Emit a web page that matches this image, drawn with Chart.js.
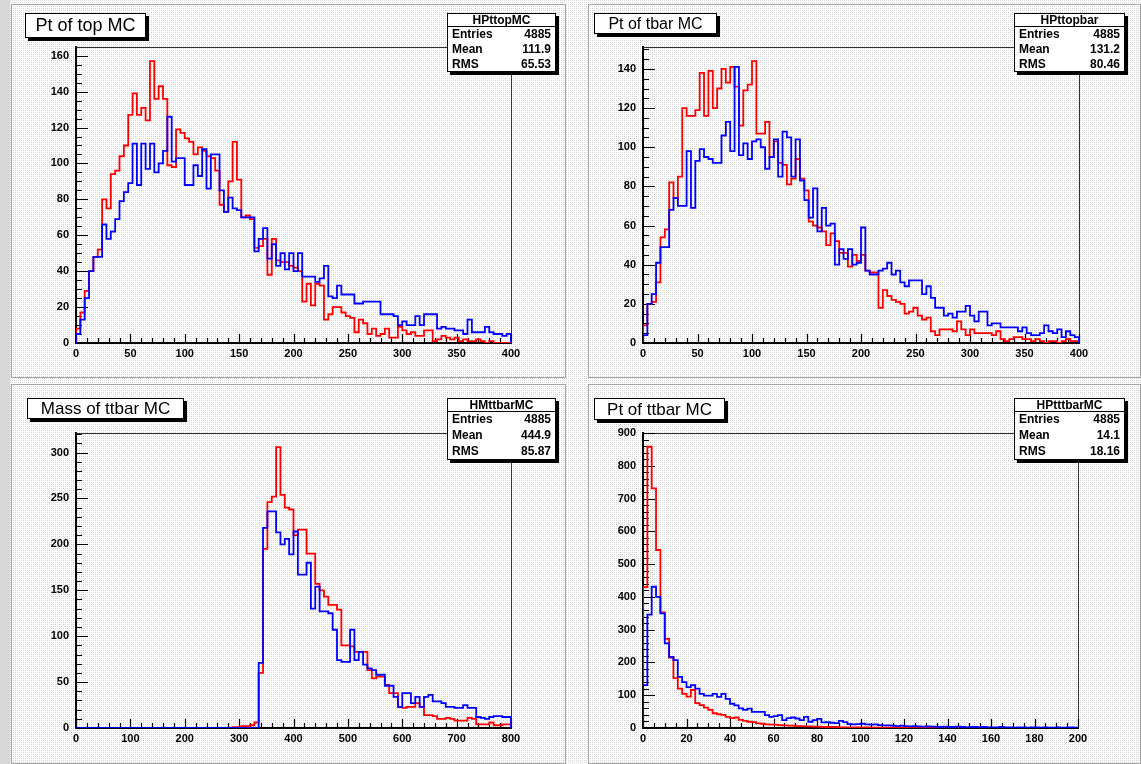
<!DOCTYPE html>
<html>
<head>
<meta charset="utf-8">
<script src="https://cdn.jsdelivr.net/npm/chart.js@4.4.1/dist/chart.umd.min.js"></script>
<style>
  html, body { margin: 0; padding: 0; }
  body { width: 1141px; height: 764px; position: relative; overflow: hidden; }
  #strip { position: absolute; left: 0; top: 0; width: 10px; height: 764px; background: #d7d7d7; }
  canvas.pad { position: absolute; }
</style>
</head>
<body>
<div id="strip"></div>
<canvas class="pad" id="pad1"></canvas>
<canvas class="pad" id="pad2"></canvas>
<canvas class="pad" id="pad3"></canvas>
<canvas class="pad" id="pad4"></canvas>
<script>
// bin contents, 100 bins each (red = first histogram, blue = second)
const topPtRed = [8,17,29,40,48,52,80,75,94,96, 104,110,127,139,127,131,124,157,136,143,
  136,99,98,119,117,114,112,105,109,107, 104,103,96,77,73,90,112,91,70,71,
  69,53,54,58,38,58,46,45,45,43, 42,40,23,33,21,33,32,13,16,20,
  20,17,15,14,6,13,11,5,8,4, 5,8,3,3,9,7,5,6,4,4,
  7,7,1,2,4,3,2,3,1,2, 1,1,2,1,0,1,0,0,0,0];
const topPtBlue = [5,13,25,40,48,48,66,58,62,69, 79,84,89,111,88,111,97,111,95,100,
  107,126,101,103,103,88,88,99,93,108, 86,105,105,85,73,81,75,74,70,70,
  70,51,58,64,47,55,43,50,41,50, 40,50,37,37,37,34,36,43,26,25,
  32,27,27,27,22,22,23,23,23,23, 16,16,16,15,10,12,10,10,15,10,
  16,16,16,8,9,8,8,7,7,5, 13,6,6,6,9,6,5,5,4,5];

const tbarPtRed = [9,20,21,31,54,58,82,74,85,120, 116,116,119,138,116,139,120,130,140,133,
  141,131,111,129,132,144,107,107,113,95, 103,92,91,81,84,94,84,78,62,60,
  59,57,50,56,52,46,46,39,45,42, 45,37,36,36,18,27,24,22,21,20,
  15,16,18,14,12,13,6,4,7,7, 7,6,11,7,4,7,5,5,5,5,
  4,6,2,1,2,3,3,2,2,1, 2,1,0,1,1,0,1,2,1,1];
const tbarPtBlue = [4,20,25,41,49,49,68,74,70,70, 98,69,93,99,95,94,92,92,106,113,
  98,141,96,102,94,103,104,100,89,95, 104,85,108,105,85,104,83,73,64,79,
  57,69,60,61,40,48,43,48,40,41, 59,37,35,35,37,38,41,35,37,31,
  29,32,32,32,25,29,23,18,18,14, 15,13,16,16,19,14,11,16,16,9,
  10,10,8,8,8,8,6,8,5,4, 4,5,9,6,5,7,3,6,4,3];

const massRed = [0,0,0,0,0,0,0,0,0,0, 0,0,0,0,0,0,0,0,0,0,
  0,0,0,0,0,0,0,0,0,0, 0,0,0,0,0,0,1,1,2,2,
  3,6,60,195,246,252,306,254,240,238, 210,216,216,190,190,157,150,143,134,134,
  129,90,90,89,83,83,83,63,54,56, 56,47,38,38,23,22,23,23,27,23,
  14,14,13,10,10,11,10,8,8,8, 11,10,4,4,4,6,3,3,4,4];
const massBlue = [0,0,0,0,0,0,0,0,0,0, 0,0,0,0,0,0,0,0,0,0,
  0,0,0,0,0,0,0,0,0,0, 0,0,0,0,0,0,0,0,0,0,
  0,0,71,218,236,236,213,200,206,189, 214,167,167,180,130,154,127,127,125,107,
  74,72,72,107,74,83,69,65,63,58, 58,46,46,34,23,38,38,27,34,23,
  34,36,29,29,27,23,23,22,22,25, 22,22,12,11,10,12,13,13,12,12];

const ttbarPtRed = [430,858,731,543,353,272,215,152,120,104, 96,116,76,70,62,55,45,42,40,34,
  30,32,25,22,19,18,14,13,11,10, 10,9,8,7,7,6,6,5,5,4,
  4,3,3,3,3,2,2,2,2,2, 1,2,1,1,1,1,1,1,0,1,
  1,0,1,0,0,1,0,0,0,1, 0,0,0,0,0,0,0,0,0,0,
  0,0,0,0,0,0,0,0,0,0, 0,0,0,0,0,0,0,0,0,0];
const ttbarPtBlue = [131,346,431,400,350,258,217,207,156,140, 125,131,120,104,99,99,104,95,104,89,
  74,69,60,55,59,49,49,49,39,34, 36,39,24,30,32,29,24,34,19,24,
  28,17,18,16,15,22,18,12,11,12, 13,11,10,11,9,8,8,7,6,7,
  6,5,6,5,4,5,4,4,3,4, 3,3,4,3,2,3,3,2,3,2,
  2,2,3,2,2,1,2,2,1,2, 2,1,2,1,1,2,1,1,2,1];

const padTitles = ['Pt of top MC', 'Pt of tbar MC', 'Mass of ttbar MC', 'Pt of ttbar MC'];
const statNames = ['HPttopMC', 'HPttopbar', 'HMttbarMC', 'HPtttbarMC'];
const statEntries = ['4885', '4885', '4885', '4885'];
const statMeans = ['111.9', '131.2', '444.9', '14.1'];
const statRms = ['65.53', '80.46', '85.87', '18.16'];

// axis ranges and tick steps
const xMaxima = [400, 400, 800, 200];
const yMaxima = [164.85, 151.2, 321.3, 900];
const xSteps = [50, 50, 100, 20];
const ySteps = [20, 20, 50, 100];
const xMinorSteps = [10, 10, 20, 5];
const yMinorSteps = [5, 5, 10, 20];

// page layout (pixels)
const padBoxes = [
  {left: 11, top: 4, width: 555, height: 374},
  {left: 588, top: 4, width: 553, height: 374},
  {left: 11, top: 384, width: 555, height: 380},
  {left: 588, top: 384, width: 553, height: 380}
];
const frames = [[76, 47, 511, 343], [643, 47, 1079, 343], [76, 433, 511, 728], [643, 433, 1078, 728]];
const titleBoxes = [[25, 13, 121, 25, 18], [594, 13, 123, 21, 16], [27, 398, 157, 21, 17], [594, 398, 131, 22, 17]];
const statBoxes = [[447, 13, 109, 59], [1014, 13, 111, 59], [447, 398, 109, 62], [1014, 398, 111, 62]];

// ROOT style dotted fill
const tile = document.createElement('canvas');
tile.width = 4; tile.height = 4;
const tctx = tile.getContext('2d');
tctx.fillStyle = '#ffffff';
tctx.fillRect(0, 0, 4, 4);
tctx.fillStyle = '#d0d0d0';
tctx.fillRect(0, 0, 1, 1);
tctx.fillRect(2, 2, 1, 1);
tctx.fillStyle = '#e0e0e0';
tctx.fillRect(2, 0, 1, 1);
tctx.fillRect(0, 2, 1, 1);
document.body.style.backgroundImage = `url(${tile.toDataURL()})`;

const histPoints = (values, xmax) => {
  const w = xmax / values.length;
  const pts = [{x: 0, y: 0}];
  values.forEach((v, i) => pts.push({x: i * w, y: v}));
  pts.push({x: xmax, y: values[values.length - 1]});
  pts.push({x: xmax, y: 0});
  return pts;
};

const rootLook = {
  id: 'rootLook',
  beforeDraw(chart) {
    const {ctx, width, height} = chart;
    ctx.save();
    ctx.fillStyle = ctx.createPattern(tile, 'repeat');
    ctx.fillRect(0, 0, width, height);
    ctx.strokeStyle = '#a4a4a4';
    ctx.lineWidth = 1;
    ctx.strokeRect(0.5, 0.5, width - 1, height - 1);
    ctx.restore();
  },
  beforeDatasetsDraw(chart, args, o) {
    const {ctx, chartArea: a} = chart;
    const x = chart.scales.x, y = chart.scales.y;
    ctx.save();
    ctx.strokeStyle = '#333';
    ctx.lineWidth = 1;
    ctx.beginPath();
    ctx.moveTo(a.left, a.top + 0.5);
    ctx.lineTo(a.right + 0.5, a.top + 0.5);
    ctx.lineTo(a.right + 0.5, a.bottom);
    ctx.stroke();

    ctx.strokeStyle = '#000';
    ctx.lineWidth = 1.2;
    ctx.beginPath();
    const nx = Math.round(x.max / o.xMinor);
    for (let i = 0; i <= nx; i++) {
      const v = i * o.xMinor;
      const px = Math.round(x.getPixelForValue(v)) + 0.5;
      const major = Math.abs(v / o.xMajor - Math.round(v / o.xMajor)) < 1e-6;
      ctx.moveTo(px, a.bottom);
      ctx.lineTo(px, a.bottom - (major ? 9 : 5));
    }
    const ny = Math.floor(y.max / o.yMinor + 1e-6);
    for (let i = 0; i <= ny; i++) {
      const v = i * o.yMinor;
      const py = Math.round(y.getPixelForValue(v)) + 0.5;
      const major = Math.abs(v / o.yMajor - Math.round(v / o.yMajor)) < 1e-6;
      ctx.moveTo(a.left, py);
      ctx.lineTo(a.left + (major ? 12 : 6), py);
    }
    ctx.stroke();
    ctx.restore();
  },
  afterDraw(chart, args, o) {
    const ctx = chart.ctx;
    const pad = o.pad;
    ctx.save();
    // title box
    const [tx, ty, tw, th, tf] = o.titleBox;
    const bx = tx - pad.left, by = ty - pad.top;
    ctx.fillStyle = '#000';
    ctx.fillRect(bx + 3, by + 3, tw, th);
    ctx.fillStyle = '#fff';
    ctx.fillRect(bx, by, tw, th);
    ctx.strokeStyle = '#000';
    ctx.lineWidth = 1;
    ctx.strokeRect(bx + 0.5, by + 0.5, tw - 1, th - 1);
    ctx.fillStyle = '#000';
    ctx.font = `${tf}px "Liberation Sans", Arial, sans-serif`;
    ctx.textAlign = 'center';
    ctx.textBaseline = 'middle';
    ctx.fillText(o.title, bx + tw / 2, by + th / 2 + 1);

    // stats box
    const [sx0, sy0, sw, sh] = o.statBox;
    const sx = sx0 - pad.left, sy = sy0 - pad.top;
    ctx.fillStyle = '#000';
    ctx.fillRect(sx + 3, sy + 3, sw, sh);
    ctx.fillStyle = '#fff';
    ctx.fillRect(sx, sy, sw, sh);
    ctx.strokeRect(sx + 0.5, sy + 0.5, sw - 1, sh - 1);
    ctx.beginPath();
    ctx.moveTo(sx, sy + 13.5);
    ctx.lineTo(sx + sw, sy + 13.5);
    ctx.stroke();
    ctx.fillStyle = '#000';
    ctx.font = 'bold 12px "Liberation Sans", Arial, sans-serif';
    ctx.textAlign = 'center';
    ctx.fillText(o.stats[0], sx + sw / 2, sy + 7.5);
    const rowH = (sh - 14) / 3;
    const labels = ['Entries', 'Mean', 'RMS'];
    labels.forEach((lab, i) => {
      const ry = sy + 14 + rowH * (i + 0.5);
      ctx.textAlign = 'left';
      ctx.fillText(lab, sx + 5, ry);
      ctx.textAlign = 'right';
      ctx.fillText(o.stats[i + 1], sx + sw - 5, ry);
    });
    ctx.restore();
  }
};

const series = [[topPtRed, topPtBlue], [tbarPtRed, tbarPtBlue], [massRed, massBlue], [ttbarPtRed, ttbarPtBlue]];
const tickFont = {family: '"Liberation Sans", Arial, sans-serif', size: 11, weight: 'bold'};

series.forEach(([red, blue], k) => {
  const pad = padBoxes[k];
  const [fl, ft, fr, fb] = frames[k];
  const canvas = document.getElementById(`pad${k + 1}`);
  canvas.width = pad.width;
  canvas.height = pad.height;
  canvas.style.left = pad.left + 'px';
  canvas.style.top = pad.top + 'px';
  const xAxisH = 28;

  new Chart(canvas, {
    type: 'line',
    data: {
      datasets: [
        {data: histPoints(blue, xMaxima[k]), borderColor: 'rgb(0, 0, 255)', borderWidth: 1.8,
          stepped: true, pointRadius: 0, fill: false},
        {data: histPoints(red, xMaxima[k]), borderColor: 'rgb(255, 0, 0)', borderWidth: 1.8,
          stepped: true, pointRadius: 0, fill: false}
      ]
    },
    options: {
      responsive: false,
      animation: false,
      events: [],
      layout: {
        padding: {left: 0, top: ft - pad.top, right: pad.left + pad.width - fr, bottom: pad.top + pad.height - fb - xAxisH}
      },
      plugins: {
        legend: {display: false},
        tooltip: {enabled: false},
        rootLook: {
          pad: pad,
          title: padTitles[k],
          titleBox: titleBoxes[k],
          statBox: statBoxes[k],
          stats: [statNames[k], statEntries[k], statMeans[k], statRms[k]],
          xMajor: xSteps[k], xMinor: xMinorSteps[k],
          yMajor: ySteps[k], yMinor: yMinorSteps[k]
        }
      },
      scales: {
        x: {
          type: 'linear', min: 0, max: xMaxima[k],
          grid: {display: false, drawTicks: false},
          border: {display: true, color: '#000', width: 2},
          ticks: {stepSize: xSteps[k], includeBounds: false, autoSkip: false, maxRotation: 0,
            padding: 4, color: '#000', font: tickFont},
          afterFit: (s) => { s.height = xAxisH; }
        },
        y: {
          type: 'linear', min: 0, max: yMaxima[k],
          grid: {display: false, drawTicks: false},
          border: {display: true, color: '#000', width: 2},
          ticks: {stepSize: ySteps[k], includeBounds: false, autoSkip: false,
            padding: 7, color: '#000', font: tickFont},
          afterFit: (s) => { s.width = fl - pad.left; }
        }
      }
    },
    plugins: [rootLook]
  });
});
</script>
</body>
</html>
